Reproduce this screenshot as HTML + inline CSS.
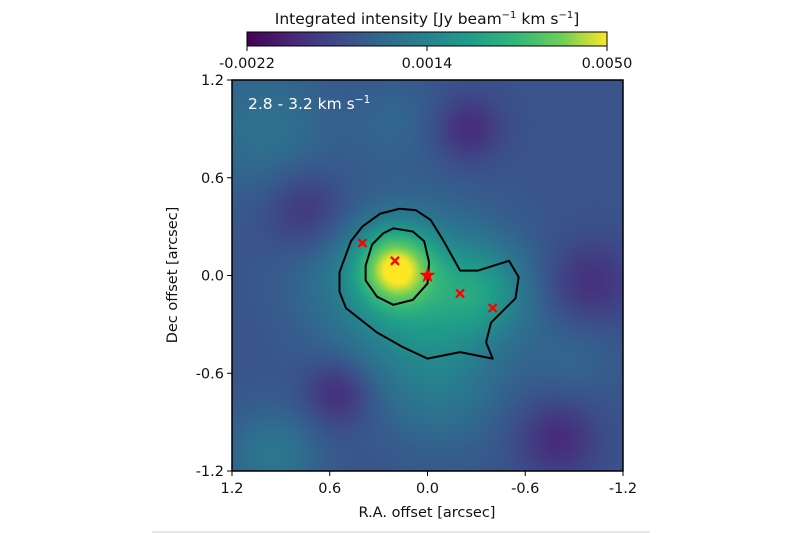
<!DOCTYPE html>
<html><head><meta charset="utf-8">
<style>
html,body{margin:0;padding:0;background:#fff;width:800px;height:533px;overflow:hidden;font-family:"Liberation Sans","DejaVu Sans",sans-serif;}
#wrap{position:relative;width:800px;height:533px;}
canvas{position:absolute;left:232px;top:80px;width:391px;height:391px;}
svg{position:absolute;left:0;top:0;}
text{font-family:"DejaVu Sans","Liberation Sans",sans-serif;font-size:14.5px;fill:#111;}
</style></head>
<body>
<div id="wrap">
<canvas id="map" width="391" height="391"></canvas>
<svg id="svg" width="800" height="533">
<defs>
<linearGradient id="vir" x1="0" x2="1" y1="0" y2="0">
<stop offset="0" stop-color="#440154"/><stop offset="0.125" stop-color="#482878"/><stop offset="0.25" stop-color="#3e4989"/><stop offset="0.375" stop-color="#31688e"/><stop offset="0.5" stop-color="#26828e"/><stop offset="0.625" stop-color="#1f9e89"/><stop offset="0.75" stop-color="#35b779"/><stop offset="0.875" stop-color="#6ece58"/><stop offset="1" stop-color="#fde725"/>
</linearGradient>
</defs>
<text x="427" y="24" text-anchor="middle" style="font-size:15.5px">Integrated intensity [Jy beam<tspan dy="-6" font-size="10">−1</tspan><tspan dy="6"> km s</tspan><tspan dy="-6" font-size="10">−1</tspan><tspan dy="6">]</tspan></text>
<rect x="247" y="32" width="360" height="14" fill="url(#vir)" stroke="#000" stroke-width="1"/>
<g id="cbticks"></g>
<g id="axes"></g>
<text x="248" y="109" style="fill:#fff;font-size:15.5px">2.8 - 3.2 km s<tspan dy="-6" font-size="10.5" style="fill:#fff">−1</tspan></text>
<text x="427" y="517" text-anchor="middle">R.A. offset [arcsec]</text>
<text transform="translate(177,275) rotate(-90)" text-anchor="middle">Dec offset [arcsec]</text>
<line x1="152" y1="532" x2="650" y2="532" stroke="#ccc" stroke-width="1"/>
</svg>
</div>
<script>
// ---- data ----
const vmin = -0.0022, vmax = 0.0050;
const cbTicks = [-0.0022, 0.0014, 0.0050];
const cbTickLabels = ["-0.0022", "0.0014", "0.0050"];
const axisTicks = [1.2, 0.6, 0.0, -0.6, -1.2];
const axisTickLabels = ["1.2", "0.6", "0.0", "-0.6", "-1.2"];
const baseLevel = -0.0001;
const blobX = [0.2, 0.05, -0.35, -0.25, 0.75, 0.55, -0.8, -1.0, 1.0, 0.95, -0.1, 0.2, -0.9, 0.6];
const blobY = [0.05, -0.15, -0.1, 0.9, 0.4, -0.72, -1.0, -0.05, 0.9, -1.1, -0.75, 0.95, -0.5, 0.0];
const blobAmp = [0.0036, 0.0022, 0.0014, -0.0011, -0.0010, -0.0012, -0.0011, -0.0010, 0.0009, 0.0011, 0.0007, 0.0005, 0.0005, 0.0004];
const blobSig = [0.16, 0.36, 0.2, 0.14, 0.17, 0.14, 0.17, 0.18, 0.3, 0.2, 0.25, 0.2, 0.2, 0.25];
const outerX = [0.40,0.29,0.17,0.07,-0.02,-0.10,-0.20,-0.31,-0.50,-0.56,-0.54,-0.39,-0.36,-0.40,-0.20,0.00,0.15,0.31,0.50,0.54,0.54,0.47];
const outerY = [0.30,0.38,0.41,0.40,0.34,0.21,0.03,0.03,0.09,-0.01,-0.14,-0.29,-0.41,-0.51,-0.47,-0.51,-0.44,-0.35,-0.20,-0.10,0.02,0.21];
const innerX = [0.21,0.09,0.02,-0.01,0.00,0.09,0.21,0.31,0.38,0.38,0.34,0.27];
const innerY = [0.29,0.27,0.21,0.08,-0.05,-0.15,-0.18,-0.13,-0.03,0.06,0.19,0.26];
const markX = [0.40, 0.20, -0.20, -0.40];
const markY = [0.20, 0.09, -0.11, -0.20];
const starX = [0.0], starY = [0.0];

// ---- scales ----
const X0 = 232, X1 = 623, Y0 = 80, Y1 = 471;
const sx = v => X0 + (1.2 - v) / 2.4 * (X1 - X0);
const sy = v => Y0 + (1.2 - v) / 2.4 * (Y1 - Y0);
const cbx = v => 247 + (v - vmin) / (vmax - vmin) * 360;
const NS = "http://www.w3.org/2000/svg";
const vir = [[68,1,84],[72,40,120],[62,73,137],[49,104,142],[38,130,142],[31,158,137],[53,183,121],[110,206,88],[253,231,37]];
function cmap(t){t=Math.max(0,Math.min(1,t));const f=t*8,i=Math.min(7,Math.floor(f)),r=f-i;
 return vir[i].map((c,k)=>c+(vir[i+1][k]-c)*r);}

const cv = document.getElementById('map'), ctx = cv.getContext('2d');
const W = cv.width, H = cv.height, img = ctx.createImageData(W, H);
for (let j = 0; j < H; j++) for (let i = 0; i < W; i++) {
  const ax = 1.2 - (i + 0.5) / W * 2.4, ay = 1.2 - (j + 0.5) / H * 2.4;
  let v = baseLevel;
  for (let b = 0; b < blobX.length; b++) {
    const dx = ax - blobX[b], dy = ay - blobY[b];
    v += blobAmp[b] * Math.exp(-(dx*dx + dy*dy) / (2 * blobSig[b] * blobSig[b]));
  }
  const c = cmap((v - vmin) / (vmax - vmin)), p = (j * W + i) * 4;
  img.data[p] = c[0]; img.data[p+1] = c[1]; img.data[p+2] = c[2]; img.data[p+3] = 255;
}
ctx.putImageData(img, 0, 0);

const svg = document.getElementById('svg');
function mk(tag, attrs, parent){const e=document.createElementNS(NS,tag);for(const k in attrs)e.setAttribute(k,attrs[k]);(parent||svg).appendChild(e);return e;}

const cbg = document.getElementById('cbticks');
cbTicks.forEach((t, k) => {
  const l = mk('line', {x1: cbx(t), x2: cbx(t), y1: 46, y2: 51, stroke: '#000'}, cbg);
  
  
  const tx = mk('text', {x: cbx(t), y: 68, 'text-anchor': 'middle'}, cbg);
  tx.textContent = cbTickLabels[k];
  
  
});

function poly(xs, ys, name){
  const pts = xs.map((x, k) => sx(x).toFixed(1) + ',' + sy(ys[k]).toFixed(1)).join(' ');
  const p = mk('polygon', {points: pts, fill: 'none', stroke: '#000', 'stroke-width': 2, 'stroke-linejoin': 'round'});
  
  
}
poly(outerX, outerY, 'contour-outer');
poly(innerX, innerY, 'contour-inner');

markX.forEach((x, k) => {
  const cx = sx(x), cy = sy(markY[k]), s = 4;
  const m = mk('path', {d: `M${cx-s},${cy-s}L${cx+s},${cy+s}M${cx-s},${cy+s}L${cx+s},${cy-s}`, stroke: '#ff0000', 'stroke-width': 2.4});
  
  
});
starX.forEach((x, k) => {
  const cx = sx(x), cy = sy(starY[k]);
  let d = '';
  for (let i = 0; i < 10; i++) {
    const r = i % 2 ? 3.4 : 8.5, a = -Math.PI/2 + i * Math.PI / 5;
    d += (i ? 'L' : 'M') + (cx + r*Math.cos(a)).toFixed(1) + ',' + (cy + r*Math.sin(a)).toFixed(1);
  }
  const st = mk('path', {d: d + 'Z', fill: '#ff0000'});
  
  
});

const ag = document.getElementById('axes');
const fr = mk('rect', {x: X0, y: Y0, width: X1 - X0, height: Y1 - Y0, fill: 'none', stroke: '#000', 'stroke-width': 1.5}, ag);


axisTicks.forEach((t, k) => {
  const xt = mk('line', {x1: sx(t), x2: sx(t), y1: Y1, y2: Y1 + 5, stroke: '#000'}, ag);
  
  
  const xl = mk('text', {x: sx(t), y: Y1 + 22, 'text-anchor': 'middle'}, ag);
  xl.textContent = axisTickLabels[k];
  
  
  const yt = mk('line', {x1: X0 - 5, x2: X0, y1: sy(t), y2: sy(t), stroke: '#000'}, ag);
  
  
  const yl = mk('text', {x: X0 - 8, y: sy(t) + 5, 'text-anchor': 'end'}, ag);
  yl.textContent = axisTickLabels[k];
  
  
});
</script>
</body></html>
